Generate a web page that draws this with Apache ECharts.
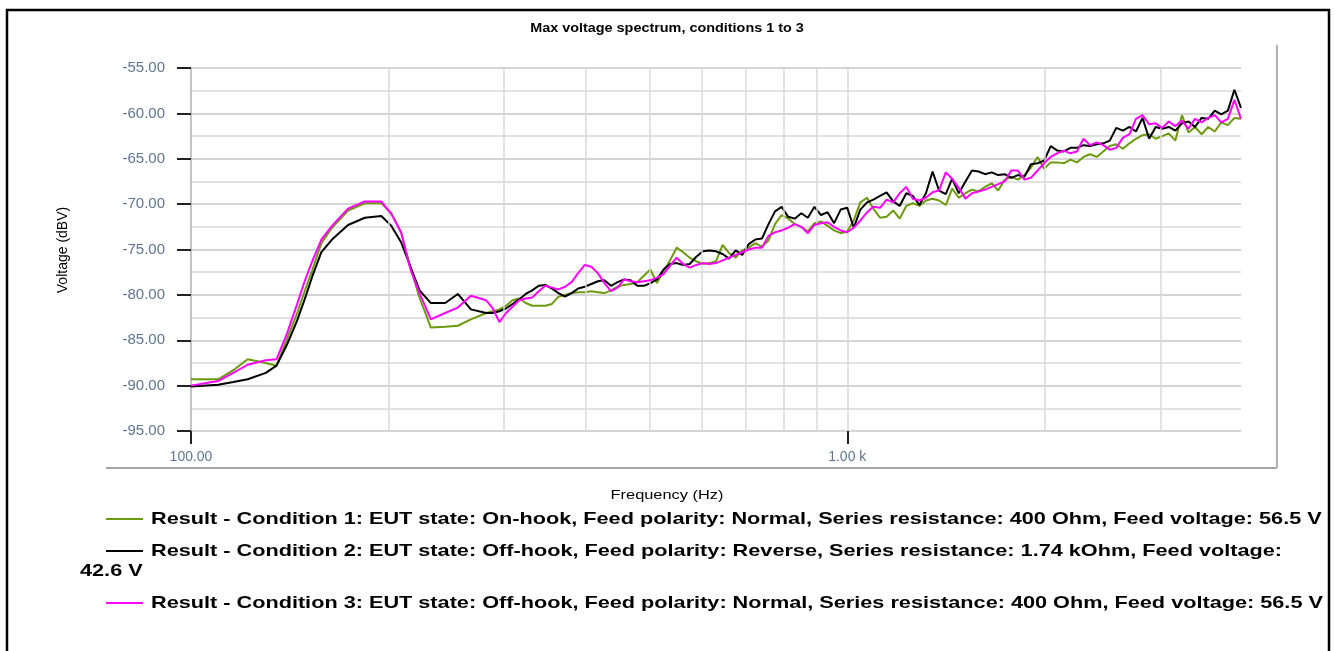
<!DOCTYPE html>
<html>
<head>
<meta charset="utf-8">
<script src="https://cdn.jsdelivr.net/npm/echarts@6/dist/echarts.min.js"></script>
<style>
html,body{margin:0;padding:0;background:#fff;}
#chart{width:1335px;height:651px;}
</style>
</head>
<body>
<div id="chart"></div>
<script>
// ---- data ----
const chartTitle = 'Max voltage spectrum, conditions 1 to 3';
const xAxisName = 'Frequency (Hz)';
const yAxisName = 'Voltage (dBV)';
const yTicks = [-95, -90, -85, -80, -75, -70, -65, -60, -55];
const xLabelValues = [100, 1000];
const xLabelTexts = ['100.00', '1.00 k'];
const xMinorGrid = [200, 300, 400, 500, 600, 700, 800, 900, 2000, 3000];

const freqHz = [100,110,116,122,130,135,140,145,149,153,158,164,173.5,184,195,202,209,216,223,232,244,255,267,
281.8,288.4,295.1,302.0,309.0,316.2,323.6,331.1,338.8,346.7,354.8,363.1,371.5,380.2,389.0,398.1,407.4,416.9,426.6,436.5,
446.7,457.1,467.7,478.6,489.8,501.2,512.9,524.8,537.0,549.5,562.3,575.4,588.8,602.6,616.6,631.0,645.7,660.7,676.1,691.8,
707.9,724.4,741.3,758.6,776.2,794.3,812.8,831.8,851.1,871.0,891.3,912.0,933.3,955.0,977.2,1000,1023,1047,1072,1096,1122,
1148,1175,1202,1230,1259,1288,1318,1349,1380,1413,1445,1479,1514,1549,1585,1622,1660,1698,1738,1778,1820,1862,1905,1950,
1995,2042,2089,2138,2188,2239,2291,2344,2399,2455,2512,2570,2630,2692,2754,2818,2884,2951,3020,3090,3162,3236,3311,3388,
3467,3548,3631,3715,3802,3890,3981];

const cond1 = [-89.3,-89.3,-88.3,-87.1,-87.5,-87.8,-84.9,-82.1,-79.6,-77.3,-74.3,-72.6,-70.7,-69.9,-69.9,-71.0,-73.1,-77.0,-80.3,-83.6,-83.5,-83.4,-82.7,
-82.0,-81.8,-81.6,-81.2,-80.6,-80.4,-80.9,-81.2,-81.2,-81.2,-81.0,-80.2,-80.0,-79.8,-79.7,-79.7,-79.6,-79.7,-79.8,-79.5,
-79.1,-78.9,-78.8,-78.6,-77.9,-77.2,-78.7,-77.4,-76.2,-74.8,-75.3,-75.9,-76.3,-76.6,-76.5,-76.3,-74.5,-75.4,-75.9,-75.1,
-74.8,-74.3,-74.7,-74.0,-72.2,-71.2,-71.6,-72.2,-72.5,-73.0,-72.1,-71.9,-72.4,-72.9,-73.2,-73.0,-71.8,-69.8,-69.3,-70.5,
-71.5,-71.4,-70.7,-71.6,-70.2,-69.9,-70.2,-69.6,-69.4,-69.6,-70.1,-68.3,-69.3,-68.8,-68.4,-68.6,-68.1,-67.7,-68.5,-67.3,
-67.0,-67.3,-66.8,-66.0,-64.8,-66.1,-65.4,-65.4,-65.5,-65.1,-65.4,-64.8,-64.5,-64.8,-64.2,-63.6,-63.4,-63.9,-63.3,-62.8,
-62.4,-62.3,-62.8,-62.5,-62.2,-63.0,-60.2,-62.1,-61.5,-62.3,-61.5,-62.0,-61.0,-61.3,-60.5,-60.6];

const cond2 = [-90.1,-89.9,-89.6,-89.3,-88.6,-87.8,-85.5,-82.9,-80.5,-78.0,-75.3,-73.9,-72.3,-71.5,-71.3,-72.4,-74.2,-76.9,-79.5,-80.9,-80.9,-79.9,-81.6,
-82.0,-82.0,-81.8,-81.5,-81.0,-80.5,-79.9,-79.5,-79.0,-78.9,-79.3,-79.8,-80.2,-79.8,-79.3,-79.1,-78.8,-78.5,-78.4,-79.0,
-78.6,-78.3,-78.4,-79.0,-79.0,-78.7,-78.3,-77.2,-76.6,-76.5,-76.7,-76.6,-75.8,-75.2,-75.1,-75.2,-75.5,-76.0,-75.1,-75.6,
-74.4,-73.9,-73.8,-72.2,-70.8,-70.3,-71.4,-71.6,-71.0,-71.5,-70.3,-71.2,-70.9,-72.1,-70.6,-70.4,-72.6,-70.6,-69.8,-69.5,
-69.1,-68.7,-69.7,-70.2,-68.8,-69.1,-70.1,-68.8,-66.4,-68.5,-68.9,-67.2,-68.8,-67.5,-66.3,-66.4,-66.7,-66.5,-66.8,-66.7,
-67.1,-66.8,-67.0,-65.6,-65.5,-65.2,-63.6,-64.1,-64.2,-63.8,-63.8,-63.5,-63.6,-63.4,-63.3,-63.0,-61.6,-61.9,-61.5,-62.0,
-60.5,-62.8,-61.5,-61.7,-61.5,-61.9,-61.1,-60.9,-61.5,-60.5,-60.6,-59.7,-60.1,-59.7,-57.4,-59.4];

const cond3 = [-90.0,-89.5,-88.6,-87.7,-87.2,-87.1,-84.3,-81.1,-78.5,-76.3,-73.9,-72.4,-70.5,-69.7,-69.7,-71.1,-73.1,-77.2,-79.8,-82.7,-82.0,-81.4,-80.1,
-80.6,-81.5,-83.0,-82.0,-81.3,-80.6,-80.4,-80.3,-79.6,-79.0,-79.2,-79.4,-79.1,-78.6,-77.6,-76.7,-76.9,-77.6,-78.7,-79.6,
-79.2,-78.3,-78.5,-78.6,-78.5,-78.4,-78.1,-77.7,-76.8,-75.9,-76.6,-77.0,-76.7,-76.5,-76.6,-76.5,-76.2,-75.9,-75.6,-75.3,
-75.0,-74.8,-74.8,-73.5,-73.1,-72.9,-72.6,-72.2,-72.5,-73.2,-72.3,-72.1,-72.0,-72.5,-72.9,-73.1,-72.6,-71.8,-70.9,-70.3,
-70.4,-69.5,-69.8,-68.8,-68.1,-69.4,-69.6,-69.3,-68.7,-68.5,-66.5,-67.2,-68.2,-69.4,-68.8,-68.6,-68.4,-68.1,-67.8,-67.5,
-66.3,-66.3,-67.3,-67.1,-66.3,-65.5,-64.8,-64.4,-64.1,-64.4,-64.2,-62.8,-63.5,-63.2,-63.5,-64.0,-63.8,-62.7,-62.3,-60.6,
-60.2,-61.2,-61.1,-61.6,-60.9,-61.4,-60.8,-61.7,-60.6,-61.0,-60.5,-60.2,-61.0,-60.6,-58.5,-60.6];

const seriesNames = [
  'Result - Condition 1: EUT state: On-hook, Feed polarity: Normal, Series resistance: 400 Ohm, Feed voltage: 56.5 V',
  'Result - Condition 2: EUT state: Off-hook, Feed polarity: Reverse, Series resistance: 1.74 kOhm, Feed voltage: 42.6 V',
  'Result - Condition 3: EUT state: Off-hook, Feed polarity: Normal, Series resistance: 400 Ohm, Feed voltage: 56.5 V'
];
const seriesColors = ['#6b9a0c', '#000000', '#ff00ff'];
const seriesValues = [cond1, cond2, cond3];

// ---- chart ----
const chart = echarts.init(document.getElementById('chart'), null, {renderer: 'canvas'});
const FONT = 'Arial, "Liberation Sans", sans-serif';
const labelColor = '#5f7590';

const series = seriesValues.map((vals, si) => ({
  name: seriesNames[si],
  type: 'line',
  data: freqHz.map((f, i) => [f, vals[i]]),
  showSymbol: false,
  symbol: 'none',
  lineStyle: {color: seriesColors[si], width: 2},
  itemStyle: {color: seriesColors[si]},
  z: 3 + si,
  animation: false
}));
series.unshift({
  name: 'grid',
  type: 'line',
  data: [],
  z: 1,
  silent: true,
  animation: false,
  markLine: {
    silent: true,
    symbol: 'none',
    label: {show: false},
    lineStyle: {color: '#d9d9d9', width: 1.5, type: 'solid'},
    data: xMinorGrid.map(v => ({xAxis: v}))
  }
});

// legend drawn as graphic
const legendY = [519, 551, 603];
const graphics = [
  {type: 'rect', shape: {x: 7, y: 10, width: 1322, height: 700}, style: {fill: 'none', stroke: '#000', lineWidth: 2.5}, silent: true},
  {type: 'line', shape: {x1: 106, y1: 468, x2: 1277, y2: 468}, style: {stroke: '#a3a3a3', lineWidth: 2}, silent: true},
  {type: 'line', shape: {x1: 1277, y1: 45, x2: 1277, y2: 468}, style: {stroke: '#b0b0b0', lineWidth: 2}, silent: true},
  {type: 'text', x: 667, y: 29, scaleX: 1.2, style: {text: chartTitle, font: 'bold 12px ' + FONT, fill: '#000', align: 'center', verticalAlign: 'middle'}},
  {type: 'text', x: 667, y: 495, scaleX: 1.26, style: {text: xAxisName, font: '13px ' + FONT, fill: '#000', align: 'center', verticalAlign: 'middle'}},
  {type: 'text', x: 63, y: 250, rotation: Math.PI / 2, style: {text: yAxisName, font: '14px ' + FONT, fill: '#000', align: 'center', verticalAlign: 'middle'}}
];
seriesNames.forEach((name, i) => {
  const y = legendY[i];
  graphics.push({type: 'line', shape: {x1: 106, y1: y, x2: 143, y2: y}, style: {stroke: seriesColors[i], lineWidth: 2}, silent: true});
  let first = name, second = null;
  if (i === 1) {
    const cut = name.lastIndexOf(' ');
    first = name.slice(0, name.lastIndexOf(' ', cut - 1));
    second = name.slice(first.length + 1);
  }
  graphics.push({type: 'text', x: 151, y: y, scaleX: 1.275, style: {text: first, font: 'bold 17px ' + FONT, fill: '#000', align: 'left', verticalAlign: 'middle'}});
  if (second) {
    graphics.push({type: 'text', x: 80, y: y + 20, scaleX: 1.275, style: {text: second, font: 'bold 17px ' + FONT, fill: '#000', align: 'left', verticalAlign: 'middle'}});
  }
});

chart.setOption({
  animation: false,
  backgroundColor: '#ffffff',
  grid: {left: 191, right: 94, top: 68, bottom: 220, containLabel: false},
  xAxis: {
    type: 'log',
    logBase: 10,
    min: 100,
    max: 3981,
    axisLine: {show: false},
    axisTick: {show: true, customValues: xLabelValues, length: 13, lineStyle: {color: '#222', width: 2}},
    axisLabel: {
      customValues: xLabelValues,
      margin: 19,
      fontSize: 14,
      fontFamily: FONT,
      color: labelColor,
      formatter: v => {
        const i = xLabelValues.indexOf(v);
        return i >= 0 ? xLabelTexts[i] : '';
      }
    },
    splitLine: {show: true, lineStyle: {color: '#d9d9d9', width: 1.5}},
    minorSplitLine: {show: false}
  },
  yAxis: {
    type: 'value',
    min: yTicks[0],
    max: yTicks[yTicks.length - 1],
    interval: 5,
    axisLine: {show: true, lineStyle: {color: '#b8b8b8', width: 1.5}},
    axisTick: {show: true, length: 14, lineStyle: {color: '#222', width: 2}},
    axisLabel: {margin: 26, fontSize: 15, fontFamily: FONT, color: labelColor, formatter: v => v.toFixed(2)},
    splitLine: {show: true, lineStyle: {color: '#c6c6c6', width: 1.5}},
    minorTick: {show: false, splitNumber: 2},
    minorSplitLine: {show: true, lineStyle: {color: '#d8d8d8', width: 1.5}}
  },
  series: series,
  graphic: graphics
});
</script>
</body>
</html>
